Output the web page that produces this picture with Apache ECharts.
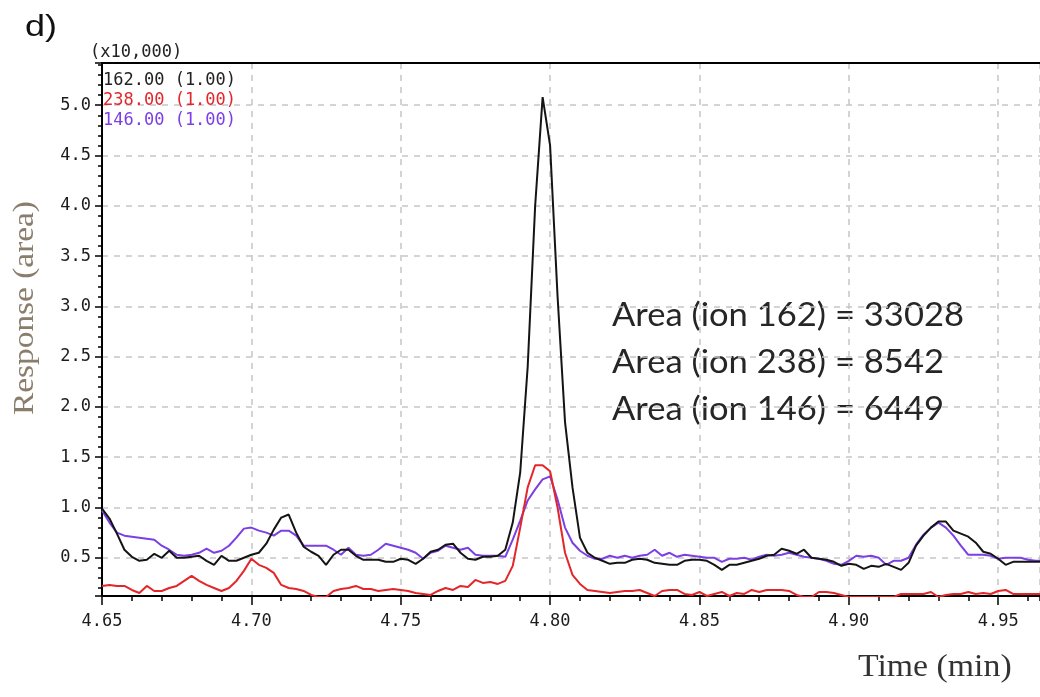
<!DOCTYPE html>
<html>
<head>
<meta charset="utf-8">
<title>Chromatogram d)</title>
<script src="https://cdn.jsdelivr.net/npm/echarts@6.0.0/dist/echarts.min.js"></script>
<style>
  html, body { margin: 0; padding: 0; background: #fff; }
  #chart { width: 1040px; height: 697px; }
</style>
</head>
<body>
<div id="chart"></div>
<script>
// retention time (min)
const times = [
  4.6500, 4.6525, 4.6550, 4.6575, 4.6600, 4.6625, 4.6650, 4.6675, 4.6700, 4.6725,
  4.6750, 4.6775, 4.6800, 4.6825, 4.6850, 4.6875, 4.6900, 4.6925, 4.6950, 4.6975,
  4.7000, 4.7025, 4.7050, 4.7075, 4.7100, 4.7125, 4.7150, 4.7175, 4.7200, 4.7225,
  4.7250, 4.7275, 4.7300, 4.7325, 4.7350, 4.7375, 4.7400, 4.7425, 4.7450, 4.7475,
  4.7500, 4.7525, 4.7550, 4.7575, 4.7600, 4.7625, 4.7650, 4.7675, 4.7700, 4.7725,
  4.7750, 4.7775, 4.7800, 4.7825, 4.7850, 4.7875, 4.7900, 4.7925, 4.7950, 4.7975,
  4.8000, 4.8025, 4.8050, 4.8075, 4.8100, 4.8125, 4.8150, 4.8175, 4.8200, 4.8225,
  4.8250, 4.8275, 4.8300, 4.8325, 4.8350, 4.8375, 4.8400, 4.8425, 4.8450, 4.8475,
  4.8500, 4.8525, 4.8550, 4.8575, 4.8600, 4.8625, 4.8650, 4.8675, 4.8700, 4.8725,
  4.8750, 4.8775, 4.8800, 4.8825, 4.8850, 4.8875, 4.8900, 4.8925, 4.8950, 4.8975,
  4.9000, 4.9025, 4.9050, 4.9075, 4.9100, 4.9125, 4.9150, 4.9175, 4.9200, 4.9225,
  4.9250, 4.9275, 4.9300, 4.9325, 4.9350, 4.9375, 4.9400, 4.9425, 4.9450, 4.9475,
  4.9500, 4.9525, 4.9550, 4.9575, 4.9600, 4.9625, 4.9650
]

// response (x10,000) for each ion
const ion162 = [
  0.99, 0.89, 0.74, 0.58, 0.51, 0.47, 0.48, 0.54, 0.50, 0.57,
  0.50, 0.50, 0.51, 0.52, 0.47, 0.43, 0.52, 0.47, 0.47, 0.50,
  0.53, 0.55, 0.64, 0.78, 0.90, 0.93, 0.75, 0.61, 0.56, 0.52,
  0.43, 0.53, 0.58, 0.58, 0.52, 0.48, 0.48, 0.48, 0.46, 0.46,
  0.49, 0.48, 0.44, 0.49, 0.56, 0.58, 0.63, 0.64, 0.55, 0.49,
  0.48, 0.51, 0.51, 0.52, 0.58, 0.85, 1.35, 2.40, 4.00, 5.08,
  4.60, 3.10, 1.85, 1.20, 0.70, 0.55, 0.50, 0.47, 0.44, 0.45,
  0.45, 0.48, 0.49, 0.48, 0.45, 0.44, 0.43, 0.43, 0.47, 0.48,
  0.48, 0.47, 0.43, 0.38, 0.43, 0.43, 0.45, 0.47, 0.49, 0.52,
  0.53, 0.59, 0.57, 0.54, 0.58, 0.50, 0.49, 0.48, 0.46, 0.42,
  0.44, 0.43, 0.39, 0.42, 0.41, 0.44, 0.41, 0.38, 0.45, 0.62,
  0.72, 0.80, 0.86, 0.86, 0.77, 0.74, 0.71, 0.65, 0.56, 0.54,
  0.49, 0.43, 0.46, 0.46, 0.46, 0.46, 0.46
]
const ion238 = [
  0.22, 0.23, 0.22, 0.22, 0.18, 0.15, 0.22, 0.17, 0.17, 0.20,
  0.22, 0.27, 0.32, 0.27, 0.23, 0.20, 0.17, 0.20, 0.27, 0.37,
  0.49, 0.43, 0.40, 0.35, 0.23, 0.20, 0.19, 0.17, 0.13, 0.11,
  0.11, 0.17, 0.19, 0.20, 0.22, 0.19, 0.19, 0.17, 0.18, 0.19,
  0.18, 0.17, 0.15, 0.14, 0.13, 0.17, 0.20, 0.18, 0.22, 0.21,
  0.28, 0.25, 0.26, 0.24, 0.27, 0.42, 0.80, 1.20, 1.42, 1.42,
  1.36, 1.00, 0.55, 0.33, 0.24, 0.18, 0.17, 0.16, 0.15, 0.16,
  0.17, 0.17, 0.18, 0.15, 0.12, 0.17, 0.18, 0.18, 0.14, 0.13,
  0.16, 0.12, 0.14, 0.16, 0.12, 0.15, 0.14, 0.18, 0.16, 0.18,
  0.18, 0.18, 0.17, 0.13, 0.11, 0.11, 0.16, 0.16, 0.15, 0.13,
  0.11, 0.11, 0.11, 0.11, 0.11, 0.11, 0.11, 0.14, 0.14, 0.14,
  0.14, 0.16, 0.11, 0.13, 0.14, 0.14, 0.16, 0.14, 0.15, 0.14,
  0.17, 0.18, 0.14, 0.14, 0.14, 0.14, 0.14
]
const ion146 = [
  0.97, 0.85, 0.75, 0.72, 0.71, 0.70, 0.69, 0.68, 0.62, 0.58,
  0.53, 0.52, 0.53, 0.55, 0.59, 0.55, 0.57, 0.62, 0.70, 0.79,
  0.80, 0.77, 0.75, 0.72, 0.77, 0.77, 0.72, 0.62, 0.62, 0.62,
  0.62, 0.58, 0.53, 0.60, 0.53, 0.52, 0.53, 0.58, 0.64, 0.62,
  0.60, 0.58, 0.55, 0.49, 0.55, 0.57, 0.62, 0.60, 0.58, 0.60,
  0.53, 0.52, 0.52, 0.52, 0.51, 0.68, 0.87, 1.07, 1.18, 1.28,
  1.31, 1.08, 0.80, 0.65, 0.57, 0.52, 0.49, 0.49, 0.52, 0.50,
  0.52, 0.50, 0.52, 0.53, 0.58, 0.52, 0.55, 0.51, 0.53, 0.52,
  0.51, 0.50, 0.50, 0.46, 0.49, 0.49, 0.50, 0.48, 0.51, 0.53,
  0.52, 0.53, 0.55, 0.53, 0.51, 0.50, 0.49, 0.47, 0.44, 0.43,
  0.47, 0.52, 0.51, 0.52, 0.50, 0.43, 0.47, 0.47, 0.50, 0.63,
  0.73, 0.80, 0.85, 0.80, 0.72, 0.62, 0.53, 0.53, 0.53, 0.52,
  0.49, 0.50, 0.50, 0.50, 0.48, 0.47, 0.47
]

const ionNames = ['162.00 (1.00)', '238.00 (1.00)', '146.00 (1.00)']
const areaLines = ['Area (ion 162) = 33028', 'Area (ion 238) = 8542', 'Area (ion 146) = 6449']

const xMin = 4.65
const xMax = 4.964
const yMin = 0.12
const yMax = 5.42

const monoFont = '"DejaVu Sans Mono", monospace'
const serifFont = '"Liberation Serif", "DejaVu Serif", serif'
const colors = { c162: '#141414', c238: '#e3262a', c146: '#7b3fe4' }

const toPairs = vals => times.map((t, i) => [t, vals[i]])

const chart = echarts.init(document.getElementById('chart'))

const dashed = { show: true, lineStyle: { color: '#c6c6c6', type: [6, 6], width: 1.5 } }

const option = {
  animation: false,
  backgroundColor: '#fff',
  grid: { left: 102, right: 0, top: 63, bottom: 101 },
  legend: {
    orient: 'vertical',
    left: 93,
    top: 66,
    icon: 'none',
    itemWidth: 0,
    itemHeight: 0,
    itemGap: 0,
    selectedMode: false,
    textStyle: { fontFamily: monoFont, fontSize: 17, lineHeight: 20 },
    data: [
      { name: ionNames[0], textStyle: { color: '#222' } },
      { name: ionNames[1], textStyle: { color: colors.c238 } },
      { name: ionNames[2], textStyle: { color: colors.c146 } }
    ]
  },
  xAxis: [
    {
      type: 'value',
      position: 'bottom',
      min: xMin,
      max: xMax,
      interval: 0.05,
      axisLine: { lineStyle: { color: '#000', width: 2 } },
      axisTick: { length: 9, lineStyle: { color: '#000', width: 1.5 } },
      axisLabel: {
        margin: 17,
        color: '#1c1c1c',
        fontFamily: monoFont,
        fontSize: 17,
        showMaxLabel: false,
        formatter: v => v.toFixed(2)
      },
      splitLine: dashed
    },
    {
      // minor ticks every 0.01 min
      type: 'value',
      position: 'bottom',
      min: xMin,
      max: xMax,
      interval: 0.01,
      axisLine: { show: false },
      axisTick: { length: 5, lineStyle: { color: '#000', width: 1.5 } },
      axisLabel: { show: false },
      splitLine: { show: false }
    },
    {
      // top frame line
      type: 'value',
      position: 'top',
      min: xMin,
      max: xMax,
      axisLine: { show: true, lineStyle: { color: '#000', width: 2 } },
      axisTick: { show: false },
      axisLabel: { show: false },
      splitLine: { show: false }
    }
  ],
  yAxis: [
    {
      type: 'value',
      position: 'left',
      min: yMin,
      max: yMax,
      splitNumber: 10,
      minInterval: 0.5,
      maxInterval: 0.5,
      axisLine: { show: true, lineStyle: { color: '#000', width: 2 } },
      axisTick: { length: 7, lineStyle: { color: '#000', width: 1.5 } },
      axisLabel: {
        margin: 11,
        color: '#1c1c1c',
        fontFamily: monoFont,
        fontSize: 17,
        formatter: v => (Math.abs(v * 2 - Math.round(v * 2)) < 1e-6 ? v.toFixed(1) : '')
      },
      splitLine: dashed
    },
    {
      // minor ticks every 0.1
      type: 'value',
      position: 'left',
      min: yMin,
      max: yMax,
      splitNumber: 53,
      minInterval: 0.1,
      maxInterval: 0.1,
      axisLine: { show: false },
      axisTick: { length: 4, lineStyle: { color: '#000', width: 1.5 } },
      axisLabel: { show: false },
      splitLine: { show: false }
    }
  ],
  series: [
    {
      name: ionNames[2],
      type: 'line',
      data: toPairs(ion146),
      showSymbol: false,
      lineStyle: { color: colors.c146, width: 2 },
      itemStyle: { color: colors.c146 }
    },
    {
      name: ionNames[0],
      type: 'line',
      data: toPairs(ion162),
      showSymbol: false,
      lineStyle: { color: colors.c162, width: 2 },
      itemStyle: { color: colors.c162 }
    },
    {
      name: ionNames[1],
      type: 'line',
      data: toPairs(ion238),
      showSymbol: false,
      lineStyle: { color: colors.c238, width: 2 },
      itemStyle: { color: colors.c238 }
    }
  ],
  graphic: [
    {
      type: 'text', x: 25, y: 28, scaleX: 1.2,
      style: { text: 'd)', fontFamily: '"Liberation Sans", Arial, sans-serif', fontSize: 30, fill: '#111', verticalAlign: 'middle' }
    },
    {
      type: 'text', x: 90, y: 53,
      style: { text: '(x10,000)', fontFamily: monoFont, fontSize: 17, fill: '#222', verticalAlign: 'middle' }
    },
    {
      type: 'text', x: 25, y: 308, rotation: Math.PI / 2, scaleX: 1.15,
      style: { text: 'Response (area)', fontFamily: serifFont, fontSize: 29, fill: '#8a7d6b', align: 'center', verticalAlign: 'middle' }
    },
    {
      type: 'text', x: 858, y: 668, scaleX: 1.09,
      style: { text: 'Time (min)', fontFamily: serifFont, fontSize: 31, fill: '#333', verticalAlign: 'middle' }
    },
    ...areaLines.map((line, i) => ({
      type: 'text', x: 612, y: 316 + i * 47, scaleX: 1.08,
      style: { text: line, fontFamily: 'Lato, "Open Sans", sans-serif', fontSize: 32, fill: '#262626', verticalAlign: 'middle' }
    }))
  ]
}

chart.setOption(option)
</script>
</body>
</html>
